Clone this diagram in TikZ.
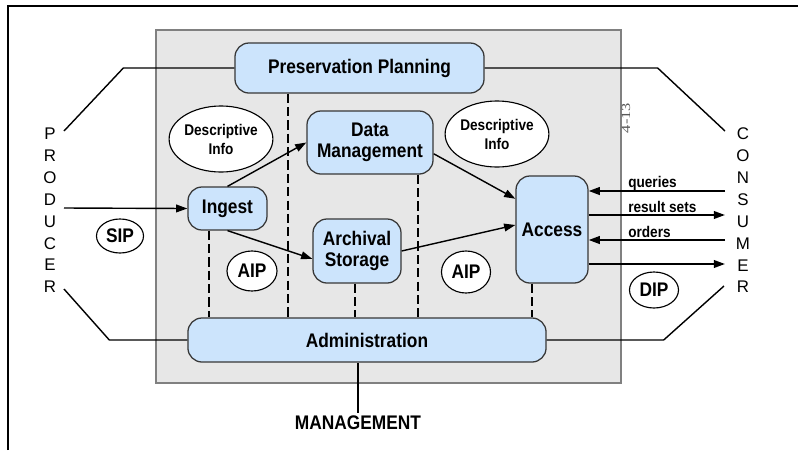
\documentclass[tikz,border=0pt]{standalone}
\usepackage{fontspec}
\setmainfont{Liberation Sans}
\newfontfamily\narrowsf{Liberation Sans}[FakeStretch=0.88]
\newfontfamily\pageserif{Liberation Serif}
\usetikzlibrary{arrows.meta, calc, positioning, shapes.geometric}
\definecolor{funcblue}{RGB}{204,228,252}
\definecolor{funcedge}{RGB}{55,55,55}
\definecolor{oaisgray}{RGB}{231,231,231}

\begin{document}
\begin{tikzpicture}[x=0.025cm, y=-0.025cm, >={Triangle[length=8pt,width=5.5pt]}, font=\narrowsf\bfseries]
  \tikzset{
    func/.style={
      draw=funcedge,
      line width=0.9pt,
      fill=funcblue,
      rounded corners=0.35cm,
      inner sep=0pt,
      align=center,
      font=\narrowsf\bfseries\fontsize{14}{14.5}\selectfont},
    pkg/.style={
      ellipse,
      draw=black,
      line width=0.8pt,
      fill=white,
      inner sep=0pt,
      font=\narrowsf\bfseries\fontsize{14}{14.5}\selectfont},
    info/.style={
      ellipse,
      draw=black,
      line width=0.8pt,
      fill=white,
      inner sep=0pt,
      align=center,
      font=\narrowsf\bfseries\fontsize{11}{13.5}\selectfont},
    flowlbl/.style={
      inner sep=0pt,
      anchor=base west,
      font=\narrowsf\bfseries\fontsize{11}{13}\selectfont},
    vword/.style={
      align=center,
      inner sep=0pt,
      font=\rmfamily\fontsize{12}{15.55}\selectfont},
    wire/.style={line width=1pt},
    flow/.style={line width=1.3pt},
    dline/.style={line width=1.1pt, dash pattern=on 6.5pt off 3pt}}

  \useasboundingbox (0,0) rectangle (798,450);

  % page frame and system box
  \draw[line width=1.4pt] (8,450) -- (8,6) -- (798,6);
  \fill[oaisgray] (156,30) rectangle (621,383);
  \draw[gray, line width=1pt] (156,30) rectangle (621,383);

  \node[func, minimum width=6.225cm, minimum height=1.25cm] (pp) at (359.5,68) {Preservation Planning};
  \node[func, minimum width=3.15cm, minimum height=1.575cm] (dm) at (370,142.5) {Data\\Management};
  \node[func, minimum width=1.975cm, minimum height=1.075cm] (ingest) at (227.5,208.5) {Ingest};
  \node[func, minimum width=2.2cm, minimum height=1.6cm] (as) at (357,251) {Archival\\Storage};
  \node[func, minimum width=1.8cm, minimum height=2.675cm] (access) at (552,229.5) {Access};
  \node[func, minimum width=8.95cm, minimum height=1.1cm] (admin) at (367,340) {Administration};

  \node[info, minimum width=2.45cm, minimum height=1.65cm] (dinfo1) at (221,139) {Descriptive\\Info};
  \node[info, minimum width=2.5cm, minimum height=1.65cm] (dinfo2) at (497,134) {Descriptive\\Info};
  \node[pkg, minimum width=1.175cm, minimum height=0.85cm] (sip) at (120,236) {SIP};
  \node[pkg, minimum width=1.25cm, minimum height=1.0cm] (aip1) at (252,271) {AIP};
  \node[pkg, minimum width=1.225cm, minimum height=1.05cm] (aip2) at (466,272) {AIP};
  \node[pkg, minimum width=1.225cm, minimum height=0.9cm] (dip) at (654,290) {DIP};

  \node[vword] (producer) at (50,210.5) {P\\R\\O\\D\\U\\C\\E\\R};
  \node[vword] (consumer) at (743,210.5) {C\\O\\N\\S\\U\\M\\E\\R};
  \node[inner sep=2pt, font=\narrowsf\bfseries\fontsize{14}{14.5}\selectfont] (mgmt) at (358,423) {MANAGEMENT};
  \node[text=black!65, rotate=90, inner sep=0pt, font=\pageserif\fontsize{9}{9}\selectfont] (pageno) at (626,118) {\scalebox{1.3}[1]{4-13}};

  \coordinate (prodtop) at (64,131);
  \coordinate (prodin) at (64,208);
  \coordinate (prodbot) at (64,289);
  \coordinate (constop) at (725,131);
  \coordinate (consbot) at (724,286);
  \coordinate (cq) at (725,191);
  \coordinate (cr) at (725,215);
  \coordinate (co) at (725,240);
  \coordinate (cd) at (725,264);

  % producer / consumer / management ties
  \draw[wire] (pp.west) -- ++(-111,0) -- (prodtop);
  \draw[wire] (pp.east) -- ++(173,0) -- (constop);
  \draw[wire] (admin.west) -- ++(-78,0) -- (prodbot);
  \draw[wire] (admin.east) -- ++(117,0) -- (consbot);
  \draw[wire] (mgmt.north) -- (mgmt.north |- admin.south);

  % data flow
  \path[->, wire] (prodin) edge (ingest.west);
  \path[->, wire] (ingest.north) edge (dm.west);
  \path[->, wire] (ingest.south) edge (as.190);
  \path[->, wire] (dm.350) edge (access.140);
  \path[->, wire] (as.east) edge (access.173);

  \draw[->, flow] (cq) -- (access.east |- cq);
  \draw[->, flow] (access.east |- cr) -- (cr);
  \draw[->, flow] (co) -- (access.east |- co);
  \draw[->, flow] (access.east |- cd) -- (cd);

  \node[flowlbl] (lq) at (628,187) {queries};
  \node[flowlbl] (lr) at (628,212) {result sets};
  \node[flowlbl] (lo) at (628,237) {orders};

  % administration links
  \draw[dline] ($(ingest.south)+(-18.5,0)$) coordinate (d1) -- (d1 |- admin.north);
  \draw[dline] ($(pp.south)+(-71.5,0)$) coordinate (d2) -- (d2 |- admin.north);
  \draw[dline] ($(as.south)+(-2,0)$) coordinate (d3) -- (d3 |- admin.north);
  \draw[dline] ($(dm.south)+(48,0)$) coordinate (d4) -- (d4 |- admin.north);
  \draw[dline] ($(access.south)+(-20,0)$) coordinate (d5) -- (d5 |- admin.north);

\end{tikzpicture}
\end{document}
